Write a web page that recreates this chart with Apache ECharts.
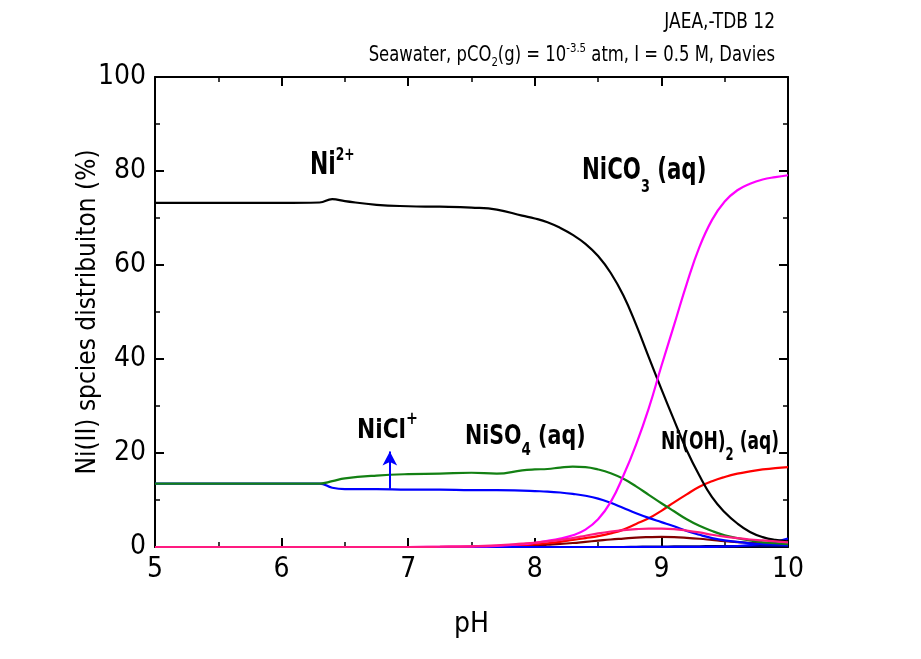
<!DOCTYPE html>
<html>
<head>
<meta charset="utf-8">
<script src="https://cdn.jsdelivr.net/npm/echarts@6/dist/echarts.min.js"></script>
<style>html,body{margin:0;padding:0;background:#fff}#c{width:921px;height:659px}</style>
</head>
<body>
<div id="c"></div>
<script>
// pH grid
const pH = [5.0, 5.5, 6.0, 6.3, 6.4, 6.5, 6.75, 7.0, 7.25, 7.5, 7.7, 7.9, 8.0, 8.1, 8.2, 8.3, 8.4, 8.5, 8.6, 8.7, 8.8, 8.9, 9.0, 9.1, 9.2, 9.3, 9.4, 9.5, 9.6, 9.7, 9.8, 9.9, 10.0];
// species distribution (%)
const ni2 =    [73.2, 73.2, 73.2, 73.3, 74.0, 73.6, 72.8, 72.5, 72.4, 72.2, 71.8, 70.5, 69.9, 69.1, 67.9, 66.4, 64.5, 61.9, 58.3, 53.5, 47.3, 40.4, 33.6, 27.0, 20.6, 15.2, 10.6, 7.4, 5.0, 3.2, 2.1, 1.5, 1.2];
const nico3 =  [0, 0, 0, 0, 0, 0, 0, 0, 0.05, 0.1, 0.25, 0.6, 0.9, 1.3, 1.8, 2.5, 3.7, 5.9, 9.6, 15.2, 21.8, 29.5, 38.5, 47.2, 56.0, 63.8, 69.6, 73.5, 75.9, 77.3, 78.2, 78.7, 79.1];
const niso4 =  [13.5, 13.5, 13.5, 13.5, 14.0, 14.6, 15.2, 15.5, 15.6, 15.8, 15.6, 16.3, 16.5, 16.6, 16.9, 17.1, 17.0, 16.5, 15.7, 14.5, 12.9, 11.1, 9.3, 7.6, 5.9, 4.5, 3.4, 2.5, 1.9, 1.4, 1.0, 0.8, 0.6];
const nicl =   [13.5, 13.5, 13.5, 13.5, 12.6, 12.3, 12.3, 12.2, 12.2, 12.1, 12.1, 12.0, 11.9, 11.8, 11.6, 11.3, 10.9, 10.3, 9.4, 8.3, 7.2, 6.2, 5.3, 4.4, 3.4, 2.6, 1.9, 1.4, 1.1, 0.8, 0.6, 0.5, 0.4];
const nioh2 =  [0, 0, 0, 0, 0, 0, 0, 0, 0.02, 0.1, 0.2, 0.4, 0.6, 0.8, 1.1, 1.5, 1.9, 2.3, 2.9, 3.7, 4.9, 6.1, 7.7, 9.5, 11.2, 12.8, 14.0, 14.9, 15.6, 16.1, 16.5, 16.8, 17.0];
const nihco3 = [0, 0, 0, 0, 0, 0, 0, 0, 0.05, 0.15, 0.35, 0.7, 0.9, 1.2, 1.5, 1.9, 2.4, 2.9, 3.3, 3.6, 3.8, 3.9, 3.9, 3.8, 3.5, 3.1, 2.6, 2.2, 1.9, 1.6, 1.4, 1.2, 1.0];
const nioh =   [0, 0, 0, 0, 0, 0, 0, 0, 0, 0, 0.1, 0.25, 0.35, 0.5, 0.65, 0.85, 1.1, 1.35, 1.6, 1.8, 2.0, 2.1, 2.15, 2.1, 1.95, 1.75, 1.5, 1.25, 1.05, 0.9, 0.75, 0.65, 0.55];
const nioh3 =  [0, 0, 0, 0, 0, 0, 0, 0, 0, 0, 0, 0, 0, 0, 0, 0, 0, 0, 0, 0, 0, 0, 0, 0, 0, 0, 0, 0.1, 0.2, 0.4, 0.7, 1.1, 1.8];
const nico3b = [0, 0, 0, 0, 0, 0, 0, 0, 0, 0, 0, 0, 0, 0, 0, 0, 0, 0, 0, 0, 0.05, 0.08, 0.1, 0.12, 0.14, 0.16, 0.18, 0.2, 0.2, 0.2, 0.2, 0.2, 0.2];
// axis ticks
const xTicks = [5, 6, 7, 8, 9, 10];
const yTicks = [0, 20, 40, 60, 80, 100];
// arrow annotation (data coords)
const arrowPH = 6.855, arrowFrom = 12.4, arrowTo = 20.3;

const FONT = '"Liberation Sans Narrow", "DejaVu Sans Condensed", "Open Sans", sans-serif';
const pairs = a => pH.map((x, i) => [x, a[i]]);

function line(name, data, color, extra) {
  return Object.assign({
    name, type: 'line', data: pairs(data), smooth: 0.45, showSymbol: false, symbol: 'none',
    lineStyle: { color, width: 2.2 }, itemStyle: { color }, z: 3, animation: false
  }, extra || {});
}

function axisCommon(pos) {
  return {
    type: 'value', position: pos,
    axisLine: { show: true, onZero: false, lineStyle: { color: '#000', width: 2 } },
    axisTick: { show: true, inside: true, length: 9, lineStyle: { color: '#000', width: 2 } },
    minorTick: { show: true, splitNumber: 2, length: 5, lineStyle: { color: '#000', width: 1.5 } },
    splitLine: { show: false },
    axisLabel: { show: false }
  };
}

const chart = echarts.init(document.getElementById('c'), null, { renderer: 'canvas' });

function lbl(x, y, sx, text, rich) {
  return { type: 'text', x, y, scaleX: sx, style: { x: 0, y: 0, text, rich, align: 'left', verticalAlign: 'middle', fontFamily: FONT }, z: 10 };
}
function richSet(color, F, S, d) {
  const L = S + 2 * d;
  return {
    m: { fontSize: F, fontWeight: 'bold', color, fontFamily: FONT, lineHeight: L },
    sub: { fontSize: S, fontWeight: 'bold', color, fontFamily: FONT, lineHeight: S, verticalAlign: 'bottom' },
    sup: { fontSize: S, fontWeight: 'bold', color, fontFamily: FONT, lineHeight: S, verticalAlign: 'top' }
  };
}

const option = {
  animation: false,
  backgroundColor: '#fff',
  grid: { left: 155, right: 133, top: 77, bottom: 112, containLabel: false },
  xAxis: [
    Object.assign(axisCommon('bottom'), {
      min: 5, max: 10, interval: 1,
      name: 'pH', nameLocation: 'middle', nameGap: 64, nameMoveOverlap: false,
      nameTextStyle: { fontSize: 28, color: '#000', fontFamily: FONT },
      axisLabel: { show: true, color: '#000', fontSize: 28, fontFamily: FONT, margin: 9,
        formatter: v => (xTicks.indexOf(v) >= 0 ? String(v) : '') }
    }),
    Object.assign(axisCommon('top'), { min: 5, max: 10, interval: 1 })
  ],
  yAxis: [
    Object.assign(axisCommon('left'), {
      min: 0, max: 100, interval: 20,
      name: 'Ni(II) spcies distribuiton (%)', nameLocation: 'middle', nameGap: 54, nameRotate: 90, nameMoveOverlap: false,
      nameTextStyle: { fontSize: 26, color: '#000', fontFamily: FONT },
      axisLabel: { show: true, color: '#000', fontSize: 28, fontFamily: FONT, margin: 9,
        formatter: v => (yTicks.indexOf(v) >= 0 ? String(v) : '') }
    }),
    Object.assign(axisCommon('right'), { min: 0, max: 100, interval: 20 })
  ],
  series: [
    line('NiCO3 minor', nico3b, '#00007f'),
    line('NiOH+', nioh, '#800000'),
    line('Ni(OH)2 (aq)', nioh2, '#ff0000'),
    line('Ni(OH)3-', nioh3, '#0000ff'),
    line('NiCl+', nicl, '#0000ff', {
      markLine: {
        silent: true, symbol: ['none', 'arrow'], symbolSize: [11, 14],
        label: { show: false },
        lineStyle: { color: '#0000ff', width: 2, type: 'solid' },
        data: [[{ coord: [arrowPH, arrowFrom] }, { coord: [arrowPH, arrowTo] }]]
      }
    }),
    line('NiSO4 (aq)', niso4, '#138013'),
    line('Ni2+', ni2, '#000000'),
    line('NiCO3 (aq)', nico3, '#ff00ff'),
    line('NiHCO3+', nihco3, '#ff1a80')
  ],
  graphic: [
    { type: 'text', x: 775, y: 23, scaleX: 0.9, style: { x: 0, y: 0, text: 'JAEA,-TDB 12', align: 'right', verticalAlign: 'middle', fontSize: 21, fill: '#000', fontFamily: FONT } },
    { type: 'text', x: 775, y: 56, scaleX: 0.87, style: {
        x: 0, y: 0, align: 'right', verticalAlign: 'middle',
        text: '{t|Seawater, pCO}{sub|2}{t|(g) = 10}{sup|-3.5}{t| atm, I = 0.5 M, Davies}',
        rich: {
          t: { fontSize: 21, color: '#000', fontFamily: FONT, lineHeight: 27 },
          sub: { fontSize: 13, color: '#000', fontFamily: FONT, lineHeight: 13, verticalAlign: 'bottom' },
          sup: { fontSize: 13, color: '#000', fontFamily: FONT, lineHeight: 13, verticalAlign: 'top' }
        } } },
    lbl(310, 166, 0.76, '{m|Ni}{sup|2+}', richSet('#000', 32, 18, 11)),
    lbl(582, 171, 0.79, '{m|NiCO}{sub|3}{m| (aq)}', richSet('#ff00ff', 30, 18, 16)),
    lbl(357, 431, 0.93, '{m|NiCl}{sup|+}', richSet('#0000ff', 26, 17, 11)),
    lbl(465, 437, 0.88, '{m|NiSO}{sub|4}{m| (aq)}', richSet('#138013', 26, 17, 14)),
    lbl(661, 442, 0.76, '{m|Ni(OH)}{sub|2}{m| (aq)}', richSet('#ff0000', 25, 17, 14))
  ]
};
chart.setOption(option);
</script>
</body>
</html>
